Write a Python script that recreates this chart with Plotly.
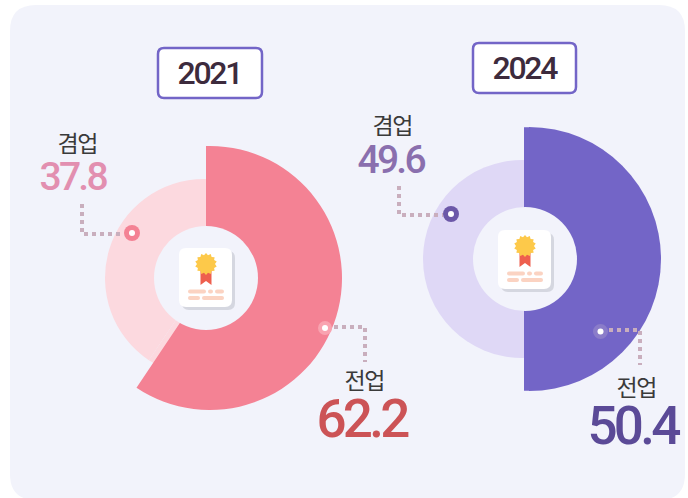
import math
import plotly.graph_objects as go

W, H = 688, 498

years = ["2021", "2024"]
categories = ["전업", "겸업"]
label_values = {"2021": ["62.2", "37.8"], "2024": ["50.4", "49.6"]}
# Slice shares as read from the drawn arcs (the artwork's arcs differ from its printed labels)
arc_2021 = [59.4, 40.6]
arc_2024 = [50.0, 50.0]

C_BG = "#f2f3fb"
C_PINK, C_PINK_L = "#f48294", "#fcd9df"
C_PURP, C_PURP_L = "#7365c7", "#dfd8f6"
C_LINE = "#c9aebd"
FONT = "Noto Sans CJK KR"
NUM = "Roboto"


def fx(x):
    return x / W


def fy(y):
    return 1 - y / H


def disc(vals, colors, cx, cy, r):
    return go.Pie(
        values=vals, labels=categories, sort=False, direction="clockwise", rotation=0,
        textinfo="none", hoverinfo="skip", showlegend=False,
        marker=dict(colors=colors, line=dict(width=0)),
        domain=dict(x=[fx(cx - r), fx(cx + r)], y=[fy(cy + r), fy(cy - r)]),
    )


fig = go.Figure()
T = "rgba(0,0,0,0)"
R_BIG, R_SMALL, R_HOLE = 132, 99, 52
# The pale ring and the strong sector are not concentric in the artwork
fig.add_trace(disc(arc_2021, [C_PINK_L, C_PINK_L], 204, 278, R_SMALL))
fig.add_trace(disc(arc_2021, [C_PINK, T], 210, 278, R_BIG))
fig.add_trace(disc(arc_2024, [C_PURP_L, C_PURP_L], 522, 259, R_SMALL))
fig.add_trace(disc(arc_2024, [C_PURP, T], 529, 259, R_BIG))

shapes = []


def rrect(x0, y0, x1, y1, r):
    p = lambda x, y: f"{fx(x):.5f},{fy(y):.5f}"
    def arc(xc, yc, xb, yb):
        return f"Q{p(xc, yc)} {p(xb, yb)}"
    return (f"M{p(x0 + r, y0)} L{p(x1 - r, y0)} {arc(x1, y0, x1, y0 + r)} "
            f"L{p(x1, y1 - r)} {arc(x1, y1, x1 - r, y1)} "
            f"L{p(x0 + r, y1)} {arc(x0, y1, x0, y1 - r)} "
            f"L{p(x0, y0 + r)} {arc(x0, y0, x0 + r, y0)} Z")


def path(d, fill, line=None, lw=0, layer="above"):
    shapes.append(dict(type="path", xref="paper", yref="paper", path=d, fillcolor=fill,
                       line=dict(color=line or T, width=lw), layer=layer))


def circle(cx, cy, r, fill, layer="above"):
    shapes.append(dict(type="circle", xref="paper", yref="paper", x0=fx(cx - r), x1=fx(cx + r),
                       y0=fy(cy + r), y1=fy(cy - r), fillcolor=fill, line=dict(width=0), layer=layer))


def band(x0, y0, x1, y1, fill):
    shapes.append(dict(type="rect", xref="paper", yref="paper", x0=fx(x0), x1=fx(x1), y0=fy(y1),
                       y1=fy(y0), fillcolor=fill, line=dict(width=0), layer="above"))


def leader(pts):
    d = "M" + " L".join(f"{fx(x):.5f},{fy(y):.5f}" for x, y in pts)
    shapes.append(dict(type="path", xref="paper", yref="paper", path=d, fillcolor=T,
                       line=dict(color=C_LINE, width=4, dash="4px,4px"), layer="above"))


# panel and title boxes
path(rrect(10, 5, 685, 500, 26), C_BG, layer="below")
path(rrect(158, 48, 262, 98, 6), "#ffffff", C_PURP, 2.5, layer="below")
path(rrect(473, 43, 576, 93, 6), "#ffffff", C_PURP, 2.5, layer="below")

# straight edge of each sector sits left of its circle centre
band(206, 146, 210.5, 278, C_PINK)
band(524, 127.2, 529.5, 390.8, C_PURP)

# centre holes
circle(206, 278, R_HOLE, C_BG)
circle(525, 259, R_HOLE, C_BG)


def icon(dx, dy):
    path(rrect(182 + dx, 251 + dy, 235 + dx, 310 + dy, 7), "#d5d7e0")
    path(rrect(179 + dx, 248 + dy, 232 + dx, 307 + dy, 7), "#ffffff")
    # ribbon
    rb = [(200.5, 270), (211.5, 270), (211.5, 285), (206, 281), (200.5, 285)]
    path("M" + " L".join(f"{fx(x + dx):.5f},{fy(y + dy):.5f}" for x, y in rb) + " Z", "#ee5f4e")
    # rosette
    pts = []
    for i in range(28):
        r = 11 if i % 2 == 0 else 9
        a = math.pi * i / 14
        pts.append((206 + dx + r * math.sin(a), 264 + dy - r * math.cos(a)))
    path("M" + " L".join(f"{fx(x):.5f},{fy(y):.5f}" for x, y in pts) + " Z", "#fdc94a")
    # text bars
    for x0, x1, y in [(188, 206, 291.5), (208, 213, 291.5), (215, 224, 291.5),
                      (188, 200, 298), (202, 224, 298)]:
        path(rrect(x0 + dx, y - 2 + dy, x1 + dx, y + 2 + dy, 2), "#fbd3c2")


icon(0, 0)
icon(319, -18)

# leaders and markers
leader([(82, 204), (82, 234), (124, 234)])
circle(132, 233, 8, C_PINK)
circle(132, 233, 3, "#ffffff")
leader([(334, 327), (365, 327), (365, 362)])
circle(325, 328, 7, "#f9a3b0")
circle(325, 328, 3, "#ffffff")
leader([(399, 186), (399, 215), (443, 215)])
circle(451, 214, 8, "#6c58a8")
circle(451, 214, 3, "#ffffff")
leader([(609, 330), (640, 330), (640, 365)])
circle(600.5, 331.5, 7.5, "#8a7cc9")
circle(600.5, 331.5, 3, "#ffffff")


def text(s, x, y, size, color, family=FONT, weight=400):
    fig.add_annotation(text=s, x=fx(x), y=fy(y), xref="paper", yref="paper", xanchor="center",
                       yanchor="middle", showarrow=False,
                       font=dict(size=size, color=color, family=family, weight=weight))


text(years[0], 209, 73, 32, "#3d2b3d", NUM, 500)
text(years[1], 524, 68, 32, "#3d2b3d", NUM, 500)
text(categories[1], 77, 142, 23, "#3a3a3a")
text(label_values["2021"][1], 72, 177, 39, "#e28fb0", NUM, 500)
text(categories[0], 364, 379, 23, "#3a3a3a")
text(label_values["2021"][0], 361, 419, 53, "#cc5356", NUM, 500)
text(categories[1], 392, 124, 23, "#3a3a3a")
text(label_values["2024"][1], 390, 160, 39, "#8a6fae", NUM, 500)
text(categories[0], 636, 386, 23, "#3a3a3a")
text(label_values["2024"][0], 632, 426, 53, "#5b4a97", NUM, 500)

fig.update_layout(width=W, height=H, margin=dict(l=0, r=0, t=0, b=0), paper_bgcolor="#ffffff",
                  plot_bgcolor="#ffffff", shapes=shapes, showlegend=False)
fig.write_html(
    "out.html",
    config={"responsive": False, "displayModeBar": False},
    post_script=(
        "document.body.style.margin='0';"
        "document.querySelectorAll('.annotation-text').forEach(function(t){t.style.letterSpacing='-0.07em';});"
    ),
)
